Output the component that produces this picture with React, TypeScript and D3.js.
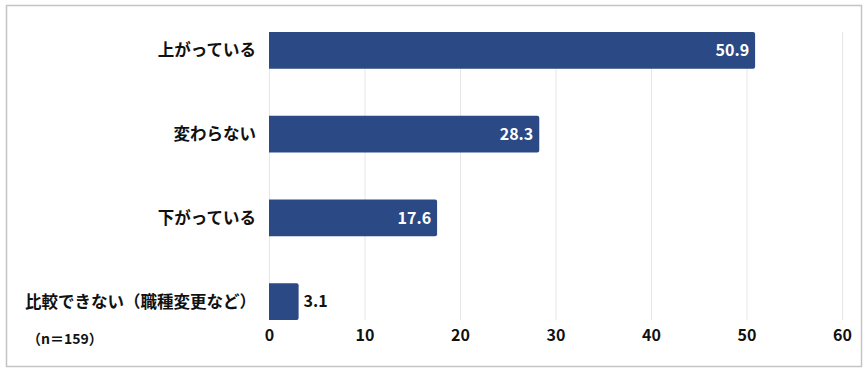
import React, { useEffect, useRef } from "react";
import { select, scaleLinear, scaleBand, axisBottom } from "d3";

const categories = ["上がっている", "変わらない", "下がっている", "比較できない（職種変更など）"];
const values = [50.9, 28.3, 17.6, 3.1];
const ticks = [0, 10, 20, 30, 40, 50, 60];
const note = "（n＝159）";

const W = 867;
const H = 374;
const FONT = "'Noto Sans CJK JP', 'Noto Sans', sans-serif";

const App = () => {
  const svgRef = useRef<SVGSVGElement>(null);

  useEffect(() => {
    const svg = select(svgRef.current);
    svg.selectAll("*").remove();

    const x = scaleLinear().domain([0, 60]).range([269, 842]);
    const y = scaleBand().domain(categories).range([32, 320]).paddingInner(0.56).paddingOuter(0);

    // frame
    svg.append("rect")
      .attr("x", 6.5).attr("y", 5.5)
      .attr("width", 855).attr("height", 361)
      .attr("fill", "white").attr("stroke", "#c4c4c4").attr("stroke-width", 1.5);

    // grid
    svg.append("g")
      .selectAll("line")
      .data(ticks)
      .join("line")
      .attr("x1", (d) => x(d) + 0.5).attr("x2", (d) => x(d) + 0.5)
      .attr("y1", 32).attr("y2", 320)
      .attr("stroke", "#e6e6e6").attr("stroke-width", 1);

    // bars
    svg.append("g")
      .selectAll("path")
      .data(values)
      .join("path")
      .attr("fill", "#2b4a85")
      .attr("d", (d, i) => {
        const x0 = x(0), x1 = x(d), y0 = y(categories[i])!, h = y.bandwidth(), r = 2;
        return `M${x0},${y0}H${x1 - r}Q${x1},${y0} ${x1},${y0 + r}V${y0 + h - r}Q${x1},${y0 + h} ${x1 - r},${y0 + h}H${x0}Z`;
      });

    // value labels
    svg.append("g")
      .selectAll("text")
      .data(values)
      .join("text")
      .attr("x", (d) => (d > 10 ? x(d) - 6 : x(d) + 5))
      .attr("y", (d, i) => y(categories[i])! + y.bandwidth() / 2)
      .attr("dy", "0.36em")
      .attr("text-anchor", (d) => (d > 10 ? "end" : "start"))
      .attr("fill", (d) => (d > 10 ? "white" : "#111"))
      .style("font", `bold 16px ${FONT}`)
      .text((d) => d.toFixed(1));

    // category labels
    svg.append("g")
      .selectAll("text")
      .data(categories)
      .join("text")
      .attr("x", 256)
      .attr("y", (d) => y(d)! + y.bandwidth() / 2)
      .attr("dy", "0.36em")
      .attr("text-anchor", "end")
      .attr("fill", "#111")
      .style("font", `bold 16.5px ${FONT}`)
      .text((d) => d);

    // x axis
    const xAxis = axisBottom(x).tickValues(ticks).tickSize(0).tickPadding(10);
    const gx = svg.append("g").attr("transform", "translate(0,320)").call(xAxis);
    gx.select(".domain").remove();
    gx.selectAll("text").attr("fill", "#111").style("font", `bold 16px ${FONT}`);

    svg.append("text")
      .attr("x", 27).attr("y", 339)
      .attr("dy", "0.36em")
      .attr("fill", "#111")
      .style("font", `bold 14px ${FONT}`)
      .text(note);
  }, []);

  return (
    <svg
      ref={svgRef}
      width={W}
      height={H}
      style={{ position: "absolute", left: 0, top: 0, background: "white" }}
    />
  );
};

export default App;
